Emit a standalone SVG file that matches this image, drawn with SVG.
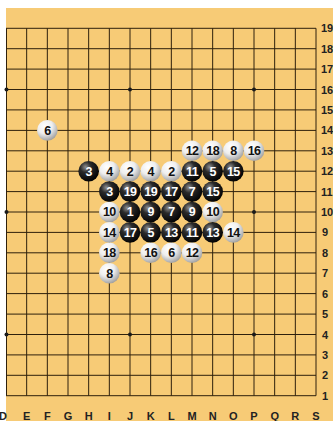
<svg xmlns="http://www.w3.org/2000/svg" width="333" height="421" viewBox="0 0 333 421">
<defs>
<radialGradient id="gb" cx="0.35" cy="0.3" r="0.75">
<stop offset="0" stop-color="#909090"/>
<stop offset="0.35" stop-color="#2a2a2a"/>
<stop offset="1" stop-color="#000"/>
</radialGradient>
<radialGradient id="gw" cx="0.38" cy="0.3" r="0.8">
<stop offset="0" stop-color="#ffffff"/>
<stop offset="0.45" stop-color="#eeeeee"/>
<stop offset="1" stop-color="#8e8e8e"/>
</radialGradient>
<style>
.grid line{stroke:#2e200c;stroke-width:1}
.star{fill:#1a1a1a}
.b circle{fill:url(#gb)}
.w circle{fill:url(#gw)}
.b text,.w text{font-family:"Liberation Sans",Arial,sans-serif;font-weight:bold;font-size:12.5px;text-anchor:middle;letter-spacing:-0.6px}
.b text{fill:#fff}
.w text{fill:#111}
.lab{font-family:"Liberation Sans",Arial,sans-serif;font-weight:bold;font-size:11px;fill:#222}
.cl{text-anchor:middle}
</style>
</defs>
<rect x="0" y="0" width="333" height="421" fill="#fff"/>
<rect x="6" y="8" width="327" height="413" fill="#f7cb76"/>
<g class="grid">
<line x1="6" y1="28.3" x2="316" y2="28.3"/>
<line x1="6" y1="48.7" x2="316" y2="48.7"/>
<line x1="6" y1="69.1" x2="316" y2="69.1"/>
<line x1="6" y1="89.5" x2="316" y2="89.5"/>
<line x1="6" y1="109.9" x2="316" y2="109.9"/>
<line x1="6" y1="130.4" x2="316" y2="130.4"/>
<line x1="6" y1="150.8" x2="316" y2="150.8"/>
<line x1="6" y1="171.2" x2="316" y2="171.2"/>
<line x1="6" y1="191.6" x2="316" y2="191.6"/>
<line x1="6" y1="212" x2="316" y2="212"/>
<line x1="6" y1="232.4" x2="316" y2="232.4"/>
<line x1="6" y1="252.8" x2="316" y2="252.8"/>
<line x1="6" y1="273.2" x2="316" y2="273.2"/>
<line x1="6" y1="293.6" x2="316" y2="293.6"/>
<line x1="6" y1="314.1" x2="316" y2="314.1"/>
<line x1="6" y1="334.5" x2="316" y2="334.5"/>
<line x1="6" y1="354.9" x2="316" y2="354.9"/>
<line x1="6" y1="375.3" x2="316" y2="375.3"/>
<line x1="6" y1="395.7" x2="316" y2="395.7"/>
<line x1="6.5" y1="28.3" x2="6.5" y2="395.7"/>
<line x1="26.67" y1="28.3" x2="26.67" y2="395.7"/>
<line x1="47.33" y1="28.3" x2="47.33" y2="395.7"/>
<line x1="68" y1="28.3" x2="68" y2="395.7"/>
<line x1="88.67" y1="28.3" x2="88.67" y2="395.7"/>
<line x1="109.33" y1="28.3" x2="109.33" y2="395.7"/>
<line x1="130" y1="28.3" x2="130" y2="395.7"/>
<line x1="150.67" y1="28.3" x2="150.67" y2="395.7"/>
<line x1="171.33" y1="28.3" x2="171.33" y2="395.7"/>
<line x1="192" y1="28.3" x2="192" y2="395.7"/>
<line x1="212.67" y1="28.3" x2="212.67" y2="395.7"/>
<line x1="233.33" y1="28.3" x2="233.33" y2="395.7"/>
<line x1="254" y1="28.3" x2="254" y2="395.7"/>
<line x1="274.67" y1="28.3" x2="274.67" y2="395.7"/>
<line x1="295.33" y1="28.3" x2="295.33" y2="395.7"/>
<line x1="316" y1="28.3" x2="316" y2="395.7"/>
</g>
<g id="stars" class="star">
<circle cx="6.5" cy="89.5" r="2"/>
<circle cx="130" cy="89.5" r="2"/>
<circle cx="254" cy="89.5" r="2"/>
<circle cx="6.5" cy="212" r="2"/>
<circle cx="254" cy="212" r="2"/>
<circle cx="6.5" cy="334.5" r="2"/>
<circle cx="130" cy="334.5" r="2"/>
<circle cx="254" cy="334.5" r="2"/>
</g>
<g id="rowlabels" class="lab">
<text x="321" y="32.3">19</text>
<text x="321" y="52.7">18</text>
<text x="321" y="73.1">17</text>
<text x="321" y="93.5">16</text>
<text x="321" y="113.9">15</text>
<text x="321" y="134.4">14</text>
<text x="321" y="154.8">13</text>
<text x="321" y="175.2">12</text>
<text x="321" y="195.6">11</text>
<text x="321" y="216">10</text>
<text x="322" y="236.4">9</text>
<text x="322" y="256.8">8</text>
<text x="322" y="277.2">7</text>
<text x="322" y="297.6">6</text>
<text x="322" y="318.1">5</text>
<text x="322" y="338.5">4</text>
<text x="322" y="358.9">3</text>
<text x="322" y="379.3">2</text>
<text x="322" y="399.7">1</text>
</g>
<g id="collabels" class="lab cl">
<text x="3" y="420">D</text>
<text x="26.67" y="420">E</text>
<text x="47.33" y="420">F</text>
<text x="68" y="420">G</text>
<text x="88.67" y="420">H</text>
<text x="109.33" y="420">I</text>
<text x="130" y="420">J</text>
<text x="150.67" y="420">K</text>
<text x="171.33" y="420">L</text>
<text x="192" y="420">M</text>
<text x="212.67" y="420">N</text>
<text x="233.33" y="420">O</text>
<text x="254" y="420">P</text>
<text x="274.67" y="420">Q</text>
<text x="295.33" y="420">R</text>
<text x="316" y="420">S</text>
</g>
<g id="stones">
<g id="F14" class="w"><circle cx="47.33" cy="130.4" r="10.3"/><text x="47.33" y="134.8">6</text></g>
<g id="M13" class="w"><circle cx="192" cy="150.8" r="10.3"/><text x="192" y="155.2">12</text></g>
<g id="N13" class="w"><circle cx="212.67" cy="150.8" r="10.3"/><text x="212.67" y="155.2">18</text></g>
<g id="O13" class="w"><circle cx="233.33" cy="150.8" r="10.3"/><text x="233.33" y="155.2">8</text></g>
<g id="P13" class="w"><circle cx="254" cy="150.8" r="10.3"/><text x="254" y="155.2">16</text></g>
<g id="H12" class="b"><circle cx="88.67" cy="171.2" r="10.3"/><text x="88.67" y="175.6">3</text></g>
<g id="I12" class="w"><circle cx="109.33" cy="171.2" r="10.3"/><text x="109.33" y="175.6">4</text></g>
<g id="J12" class="w"><circle cx="130" cy="171.2" r="10.3"/><text x="130" y="175.6">2</text></g>
<g id="K12" class="w"><circle cx="150.67" cy="171.2" r="10.3"/><text x="150.67" y="175.6">4</text></g>
<g id="L12" class="w"><circle cx="171.33" cy="171.2" r="10.3"/><text x="171.33" y="175.6">2</text></g>
<g id="M12" class="b"><circle cx="192" cy="171.2" r="10.3"/><text x="192" y="175.6">11</text></g>
<g id="N12" class="b"><circle cx="212.67" cy="171.2" r="10.3"/><text x="212.67" y="175.6">5</text></g>
<g id="O12" class="b"><circle cx="233.33" cy="171.2" r="10.3"/><text x="233.33" y="175.6">15</text></g>
<g id="I11" class="b"><circle cx="109.33" cy="191.6" r="10.3"/><text x="109.33" y="196">3</text></g>
<g id="J11" class="b"><circle cx="130" cy="191.6" r="10.3"/><text x="130" y="196">19</text></g>
<g id="K11" class="b"><circle cx="150.67" cy="191.6" r="10.3"/><text x="150.67" y="196">19</text></g>
<g id="L11" class="b"><circle cx="171.33" cy="191.6" r="10.3"/><text x="171.33" y="196">17</text></g>
<g id="M11" class="b"><circle cx="192" cy="191.6" r="10.3"/><text x="192" y="196">7</text></g>
<g id="N11" class="b"><circle cx="212.67" cy="191.6" r="10.3"/><text x="212.67" y="196">15</text></g>
<g id="I10" class="w"><circle cx="109.33" cy="212" r="10.3"/><text x="109.33" y="216.4">10</text></g>
<g id="J10" class="b"><circle cx="130" cy="212" r="10.3"/><text x="130" y="216.4">1</text></g>
<g id="K10" class="b"><circle cx="150.67" cy="212" r="10.3"/><text x="150.67" y="216.4">9</text></g>
<g id="L10" class="b"><circle cx="171.33" cy="212" r="10.3"/><text x="171.33" y="216.4">7</text></g>
<g id="M10" class="b"><circle cx="192" cy="212" r="10.3"/><text x="192" y="216.4">9</text></g>
<g id="N10" class="w"><circle cx="212.67" cy="212" r="10.3"/><text x="212.67" y="216.4">10</text></g>
<g id="I9" class="w"><circle cx="109.33" cy="232.4" r="10.3"/><text x="109.33" y="236.8">14</text></g>
<g id="J9" class="b"><circle cx="130" cy="232.4" r="10.3"/><text x="130" y="236.8">17</text></g>
<g id="K9" class="b"><circle cx="150.67" cy="232.4" r="10.3"/><text x="150.67" y="236.8">5</text></g>
<g id="L9" class="b"><circle cx="171.33" cy="232.4" r="10.3"/><text x="171.33" y="236.8">13</text></g>
<g id="M9" class="b"><circle cx="192" cy="232.4" r="10.3"/><text x="192" y="236.8">11</text></g>
<g id="N9" class="b"><circle cx="212.67" cy="232.4" r="10.3"/><text x="212.67" y="236.8">13</text></g>
<g id="O9" class="w"><circle cx="233.33" cy="232.4" r="10.3"/><text x="233.33" y="236.8">14</text></g>
<g id="I8" class="w"><circle cx="109.33" cy="252.8" r="10.3"/><text x="109.33" y="257.2">18</text></g>
<g id="K8" class="w"><circle cx="150.67" cy="252.8" r="10.3"/><text x="150.67" y="257.2">16</text></g>
<g id="L8" class="w"><circle cx="171.33" cy="252.8" r="10.3"/><text x="171.33" y="257.2">6</text></g>
<g id="M8" class="w"><circle cx="192" cy="252.8" r="10.3"/><text x="192" y="257.2">12</text></g>
<g id="I7" class="w"><circle cx="109.33" cy="273.2" r="10.3"/><text x="109.33" y="277.6">8</text></g>
</g>
</svg>
